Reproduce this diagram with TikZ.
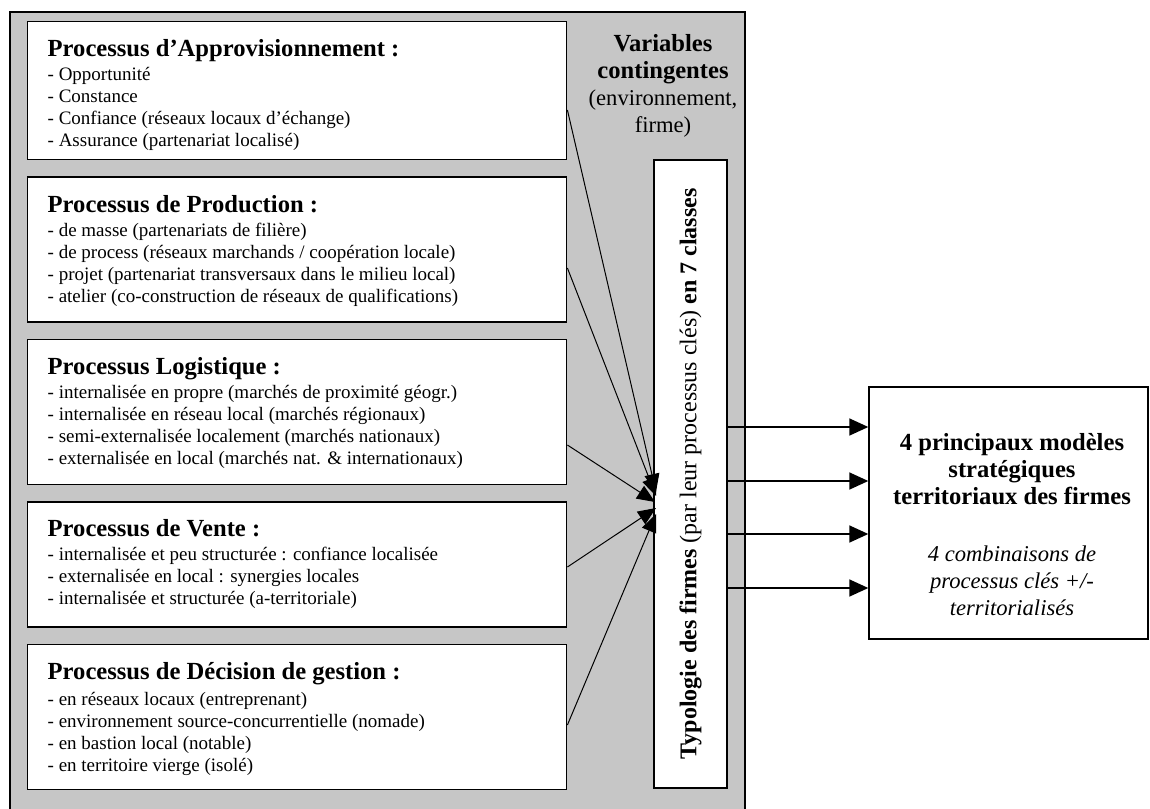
\documentclass[tikz,border=0pt]{standalone}
\usepackage{fontspec}
\setmainfont{Liberation Serif}
\usepackage{tikz}
\usetikzlibrary{calc,positioning,arrows.meta}
\definecolor{panelgray}{RGB}{198,198,198}
\newcommand{\proctext}[2]{\parbox[t][#1][t]{249.5pt}{#2}}
\newcommand{\proctitle}[1]{{\fontsize{12.3}{14}\selectfont\bfseries #1}}

\begin{document}
\begin{tikzpicture}[x=0.5pt,y=-0.5pt,
    procbox/.style={draw, line width=0.7pt, fill=white, inner xsep=10pt, inner ysep=9pt,
        font=\fontsize{9.5}{11}\selectfont},
    fanarrow/.style={-{Triangle[length=9pt,width=7.5pt]}, line width=0.5pt},
    outarrow/.style={-{Triangle[length=9.5pt,width=8.5pt]}, line width=0.8pt}]
\useasboundingbox (0,0) rectangle (1150,808);
\clip (0,0) rectangle (1150,808);

% grey frame
\draw[line width=1pt, fill=panelgray] (10,12) rectangle (745,830);

% process boxes
\node[procbox, anchor=north west] (appro) at (27,21) {\proctext{51pt}{%
  \proctitle{Processus d'Approvisionnement :}\\[1pt]
  - Opportunité\\
  - Constance\\
  - Confiance (réseaux locaux d'échange)\\
  - Assurance (partenariat localisé)}};
\node[procbox, below=8pt of appro] (prod) {\proctext{54.5pt}{%
  \proctitle{Processus de Production :}\\[1pt]
  - de masse (partenariats de filière)\\
  - de process (réseaux marchands / coopération locale)\\
  - projet (partenariat transversaux dans le milieu local)\\
  - atelier (co-construction de réseaux de qualifications)}};
\node[procbox, below=8pt of prod] (logis) {\proctext{54.5pt}{%
  \proctitle{Processus Logistique :}\\[1pt]
  - internalisée en propre (marchés de proximité géogr.)\\
  - internalisée en réseau local (marchés régionaux)\\
  - semi-externalisée localement (marchés nationaux)\\
  - externalisée en local (marchés nat. \& internationaux)}};
\node[procbox, below=8pt of logis] (vente) {\proctext{44.5pt}{%
  \proctitle{Processus de Vente :}\\[1pt]
  - internalisée et peu structurée : confiance localisée\\
  - externalisée en local : synergies locales\\
  - internalisée et structurée (a-territoriale)}};
\node[procbox, below=8pt of vente] (decis) {\proctext{54.5pt}{%
  \proctitle{Processus de Décision de gestion :}\\[2pt]
  - en réseaux locaux (entreprenant)\\
  - environnement source-concurrentielle (nomade)\\
  - en bastion local (notable)\\
  - en territoire vierge (isolé)}};

% contingent variables
\node[align=center, font=\fontsize{11.3}{13.5}\selectfont] (varia) at (663,86)
  {{\fontsize{12.3}{13.5}\selectfont\bfseries Variables}\\
   {\fontsize{12.3}{13.5}\selectfont\bfseries contingentes}\\
   (environnement,\\ firme)};

% typology (vertical)
\node[draw, line width=0.7pt, fill=white, rotate=90, minimum width=314pt, minimum height=36.5pt,
  font=\fontsize{12}{14}\selectfont] (typo) at (690.5,474)
  {\textbf{Typologie des firmes} (par leur processus clés) \textbf{en 7 classes}};

% models box
\node[draw, line width=0.7pt, fill=white, minimum width=139.5pt, minimum height=126pt] (models) at (1008.5,513) {};
\node[align=center, font=\fontsize{12.3}{13.5}\selectfont] (modtext) at (1012,525)
  {\textbf{4 principaux modèles}\\ \textbf{stratégiques}\\ \textbf{territoriaux des firmes}\\[15pt]
   {\fontsize{11.3}{13.5}\selectfont\itshape 4 combinaisons de}\\
   {\fontsize{11.3}{13.5}\selectfont\itshape processus clés +/-}\\
   {\fontsize{11.3}{13.5}\selectfont\itshape territorialisés}};

% arrows into the typology
\coordinate (hub) at (656,503);
\draw[fanarrow] (appro.east |- 0,110) -- ($(hub)+(0,-11)$);
\draw[fanarrow] (prod.east |- 0,268) -- ($(hub)+(0,-7)$);
\draw[fanarrow] (logis.east |- 0,445) -- ($(hub)+(-1,-1)$);
\draw[fanarrow] (vente.east |- 0,567) -- ($(hub)+(0,5)$);
\draw[fanarrow] (decis.east |- 0,725) -- ($(hub)+(0,11)$);

% arrows to the models
\foreach \y in {427,481,534,588}
  \draw[outarrow] (typo.south |- 0,\y) -- (models.west |- 0,\y);

\end{tikzpicture}
\end{document}
